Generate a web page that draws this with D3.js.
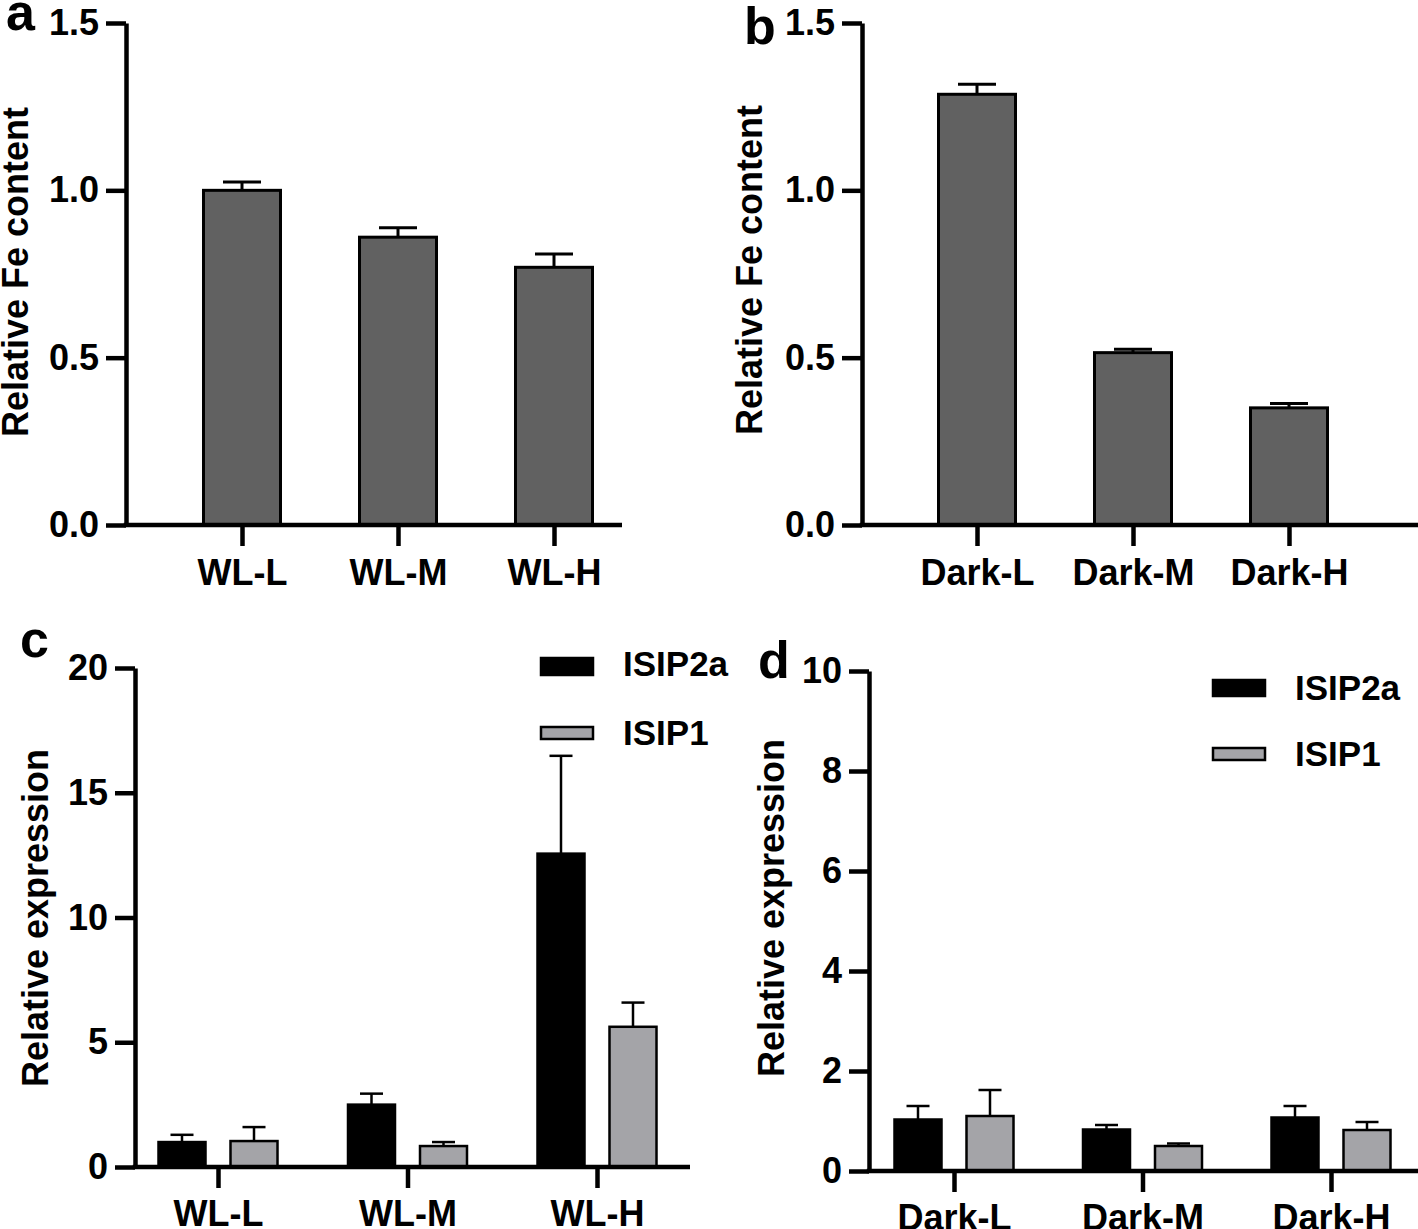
<!DOCTYPE html>
<html>
<head>
<meta charset="utf-8">
<script src="https://cdn.jsdelivr.net/npm/d3@7"></script>
<style>
  body { margin: 0; background: #fff; }
  svg { display: block; }
  text { font-family: "Liberation Sans", Arial, sans-serif; font-weight: bold; fill: #000; }
  .axis path, .axis line { stroke: #000; }
</style>
</head>
<body>
<script>
// ---- data ----
var wlCats = ["WL-L", "WL-M", "WL-H"];
var darkCats = ["Dark-L", "Dark-M", "Dark-H"];

var feWL = [1.0, 0.86, 0.77];
var feWLErr = [0.025, 0.028, 0.04];
var feDark = [1.287, 0.515, 0.35];
var feDarkErr = [0.03, 0.01, 0.013];

var seriesNames = ["ISIP2a", "ISIP1"];
var exprWL_2a = [1.0, 2.5, 12.56];
var exprWL_2aErr = [0.29, 0.44, 3.92];
var exprWL_1 = [1.04, 0.84, 5.62];
var exprWL_1Err = [0.56, 0.16, 0.97];
var exprDark_2a = [1.03, 0.83, 1.07];
var exprDark_2aErr = [0.27, 0.09, 0.23];
var exprDark_1 = [1.1, 0.5, 0.82];
var exprDark_1Err = [0.52, 0.05, 0.16];

var feTicks = [0, 0.5, 1.0, 1.5];
var exprWLTicks = [0, 5, 10, 15, 20];
var exprDarkTicks = [0, 2, 4, 6, 8, 10];

var svg = d3.select("body").append("svg")
    .attr("width", 1418)
    .attr("height", 1229);

var AX_W = 4.5;

// y axis + x baseline, returns scales
function set_axes(p) {
  var yScale = d3.scaleLinear()
      .domain(p.ydomain)
      .range([p.y0, p.yTop]);

  var xScale = d3.scalePoint()
      .domain(p.cats)
      .range([p.firstCenter, p.firstCenter + p.step * (p.cats.length - 1)]);

  var g = svg.append("g");

  // y axis
  var ya = g.append("g")
      .attr("class", "axis")
      .attr("transform", "translate(" + p.axisX + ",0)")
      .call(d3.axisLeft(yScale).tickValues(p.ticks).tickFormat(p.fmt)
            .tickSize(20).tickPadding(7).tickSizeOuter(0));
  ya.select(".domain").attr("stroke-width", AX_W);
  ya.selectAll(".tick line").attr("stroke-width", AX_W);
  ya.selectAll(".tick text").style("font-size", "36px");

  // x axis ticks (baseline drawn separately to reach the panel edge)
  var xa = g.append("g")
      .attr("class", "axis")
      .attr("transform", "translate(0," + p.y0 + ")")
      .call(d3.axisBottom(xScale).tickSize(p.xTick).tickPadding(p.xPad));
  xa.select(".domain").remove();
  xa.selectAll(".tick line").attr("stroke-width", AX_W);
  xa.selectAll(".tick text").style("font-size", "36px");

  g.append("line")
      .attr("x1", p.axisX - AX_W / 2).attr("x2", p.xEnd)
      .attr("y1", p.y0).attr("y2", p.y0)
      .attr("stroke", "#000").attr("stroke-width", AX_W);

  // axis title
  g.append("text")
      .attr("transform", "translate(" + p.labelX + "," + p.labelY + ") rotate(-90)")
      .style("text-anchor", "middle")
      .style("font-size", "36px")
      .text(p.ylabel);

  // panel letter
  g.append("text")
      .attr("x", p.letterX).attr("y", p.letterY)
      .style("font-size", "52px")
      .text(p.letter);

  return [g, xScale, yScale];
}

function add_errorbar(g, cx, yBar, yTop, capW, sw) {
  g.append("line")
      .attr("x1", cx).attr("x2", cx)
      .attr("y1", yBar).attr("y2", yTop)
      .attr("stroke", "#000").attr("stroke-width", sw);
  g.append("line")
      .attr("x1", cx - capW / 2).attr("x2", cx + capW / 2)
      .attr("y1", yTop).attr("y2", yTop)
      .attr("stroke", "#000").attr("stroke-width", sw);
}

function single_panel(p, vals, errs) {
  var r = set_axes(p), g = r[0], xScale = r[1], yScale = r[2];
  var bars = g.insert("g", ":first-child");
  p.cats.forEach(function(c, i) {
    var cx = xScale(c);
    add_errorbar(bars, cx, yScale(vals[i]), yScale(vals[i] + errs[i]), 38, 3);
    bars.append("rect")
        .attr("x", cx - p.barW / 2)
        .attr("y", yScale(vals[i]))
        .attr("width", p.barW)
        .attr("height", p.y0 - yScale(vals[i]))
        .attr("fill", "#616161")
        .attr("stroke", "#000")
        .attr("stroke-width", 3);
  });
}

function grouped_panel(p, s1, e1, s2, e2) {
  var r = set_axes(p), g = r[0], xScale = r[1], yScale = r[2];
  var bars = g.insert("g", ":first-child");
  var series = [
    {vals: s1, errs: e1, fill: "#000", off: -p.off},
    {vals: s2, errs: e2, fill: "#a4a4a8", off: p.off}
  ];
  series.forEach(function(s) {
    p.cats.forEach(function(c, i) {
      var cx = xScale(c) + s.off;
      add_errorbar(bars, cx, yScale(s.vals[i]), yScale(s.vals[i] + s.errs[i]), 23, 2.5);
      bars.append("rect")
          .attr("x", cx - p.barW / 2)
          .attr("y", yScale(s.vals[i]))
          .attr("width", p.barW)
          .attr("height", p.y0 - yScale(s.vals[i]))
          .attr("fill", s.fill)
          .attr("stroke", "#000")
          .attr("stroke-width", 2.5);
    });
  });

  // legend
  var lg = g.append("g");
  p.legend.forEach(function(l, i) {
    lg.append("rect")
        .attr("x", l.x).attr("y", l.ry)
        .attr("width", 52).attr("height", l.rh)
        .attr("fill", series[i].fill)
        .attr("stroke", "#000").attr("stroke-width", 2.5);
    lg.append("text")
        .attr("x", l.x + 82).attr("y", l.ty)
        .style("font-size", "35px")
        .text(seriesNames[i]);
  });
}

var f1 = d3.format(".1f"), f0 = d3.format("d");

single_panel({
  cats: wlCats, ydomain: [0, 1.5], ticks: feTicks, fmt: f1,
  axisX: 126, y0: 525, yTop: 23, xEnd: 622, firstCenter: 242, step: 156,
  barW: 77, xTick: 21, xPad: 13,
  ylabel: "Relative Fe content", labelX: 28, labelY: 272,
  letter: "a", letterX: 6, letterY: 30
}, feWL, feWLErr);

single_panel({
  cats: darkCats, ydomain: [0, 1.5], ticks: feTicks, fmt: f1,
  axisX: 862, y0: 525, yTop: 23, xEnd: 1418, firstCenter: 977, step: 156,
  barW: 77, xTick: 21, xPad: 13,
  ylabel: "Relative Fe content", labelX: 762, labelY: 270,
  letter: "b", letterX: 744, letterY: 44
}, feDark, feDarkErr);

grouped_panel({
  cats: wlCats, ydomain: [0, 20], ticks: exprWLTicks, fmt: f0,
  axisX: 135, y0: 1167, yTop: 668, xEnd: 690, firstCenter: 218, step: 189.5,
  barW: 47, off: 36, xTick: 21, xPad: 12,
  ylabel: "Relative expression", labelX: 48, labelY: 918,
  letter: "c", letterX: 20, letterY: 657,
  legend: [{x: 541, ry: 658, rh: 17, ty: 676}, {x: 541, ry: 727, rh: 12, ty: 745}]
}, exprWL_2a, exprWL_2aErr, exprWL_1, exprWL_1Err);

grouped_panel({
  cats: darkCats, ydomain: [0, 10], ticks: exprDarkTicks, fmt: f0,
  axisX: 869, y0: 1171, yTop: 671, xEnd: 1418, firstCenter: 954, step: 188.5,
  barW: 47, off: 36, xTick: 21, xPad: 12,
  ylabel: "Relative expression", labelX: 784, labelY: 908,
  letter: "d", letterX: 758, letterY: 678,
  legend: [{x: 1213, ry: 680, rh: 16, ty: 700}, {x: 1213, ry: 748, rh: 12, ty: 766}]
}, exprDark_2a, exprDark_2aErr, exprDark_1, exprDark_1Err);
</script>
</body>
</html>
